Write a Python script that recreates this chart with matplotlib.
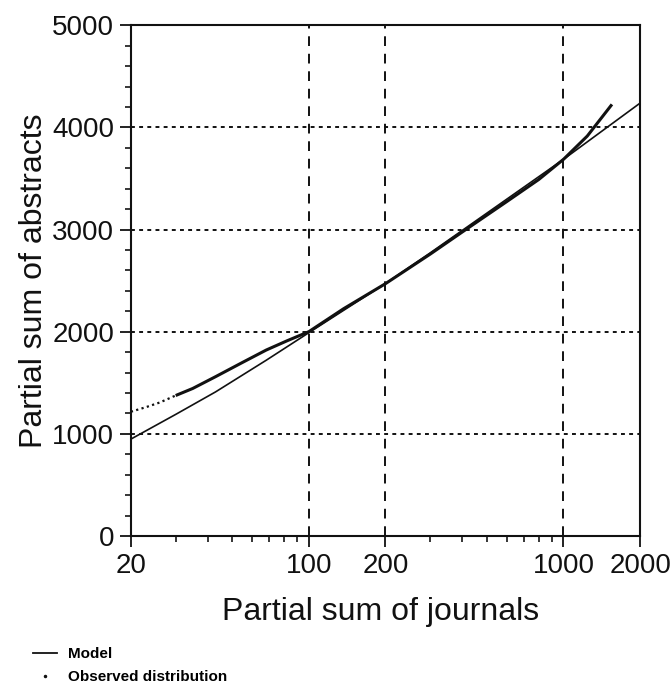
import matplotlib.pyplot as plt
import matplotlib.ticker as mticker
from matplotlib.lines import Line2D

# Model curve
model_x = [20, 30, 43, 68, 100, 200, 300, 500, 1000, 2000]
model_y = [948, 1190, 1410, 1720, 1990, 2472, 2772, 3160, 3687, 4238]

# Observed distribution
obs_x = [20, 23, 26, 30, 35, 43, 47, 55, 68, 82, 100, 137, 200, 300, 400, 600, 800, 1000, 1240, 1550]
obs_y = [1216, 1262, 1307, 1375, 1444, 1559, 1610, 1700, 1820, 1910, 2000, 2225, 2470, 2760, 2975, 3275, 3490, 3687, 3915, 4225]

x_ticks = [20, 100, 200, 1000, 2000]
x_minor = [30, 40, 50, 60, 70, 80, 90, 300, 400, 500, 600, 700, 800, 900]
y_ticks = [0, 1000, 2000, 3000, 4000, 5000]

ink = '#111111'
font = ['Liberation Sans', 'DejaVu Sans']

fig = plt.figure(figsize=(6.71, 6.93), dpi=100)
ax = fig.add_axes([0.195, 0.2266, 0.759, 0.737])

ax.plot(model_x, model_y, color=ink, lw=1.2, zorder=3)

# sparse points at the start look dotted, dense points form a thick line
dot_end = 4
ax.plot(obs_x[:dot_end], obs_y[:dot_end], color=ink, lw=1.6,
        linestyle=(0, (1, 1.5)), zorder=3)
ax.plot(obs_x[dot_end - 1:], obs_y[dot_end - 1:], color=ink, lw=2.2,
        zorder=3, solid_capstyle='butt', solid_joinstyle='round')

ax.set_xscale('log')
ax.set_xlim(20, 2000)
ax.set_ylim(0, 5000)
ax.xaxis.set_major_locator(mticker.FixedLocator(x_ticks))
ax.xaxis.set_minor_locator(mticker.FixedLocator(x_minor))
ax.xaxis.set_major_formatter(mticker.FixedFormatter([str(v) for v in x_ticks]))
ax.xaxis.set_minor_formatter(mticker.NullFormatter())
ax.yaxis.set_major_locator(mticker.FixedLocator(y_ticks))
ax.yaxis.set_minor_locator(mticker.MultipleLocator(200))

ax.tick_params(which='major', direction='out', length=8, width=1.3, pad=4,
               labelsize=20, colors=ink)
ax.tick_params(which='minor', direction='out', length=4, width=1.1)
for lab in ax.get_xticklabels() + ax.get_yticklabels():
    lab.set_family(font)

for s in ax.spines.values():
    s.set_linewidth(1.5)
    s.set_color(ink)

# gridlines: dashed verticals, dotted horizontals
ax.xaxis.grid(True, which='major', color=ink, lw=1.4, linestyle=(0, (5, 4)))
ax.yaxis.grid(True, which='major', color=ink, lw=1.4, linestyle=(0, (2, 2.2)))
ax.set_axisbelow(True)

ax.set_xlabel('Partial sum of journals', fontsize=23, family=font, color=ink)
ax.set_ylabel('Partial sum of abstracts', fontsize=23, family=font, color=ink)
ax.xaxis.set_label_coords(0.49, -0.12)
ax.yaxis.set_label_coords(-0.16, 0.5)

handles = [Line2D([], [], color=ink, lw=1.3),
           Line2D([], [], color=ink, lw=0, marker='.', markersize=3)]
fig.legend(handles, ['Model', 'Observed distribution'], loc='upper left',
           bbox_to_anchor=(0.049, 0.066), frameon=False,
           prop={'family': font, 'weight': 'bold', 'size': 11},
           handlelength=1.6, handletextpad=0.7, labelspacing=0.6, borderaxespad=0,
           borderpad=0)

fig.savefig('out.png', dpi=100, facecolor='white')
